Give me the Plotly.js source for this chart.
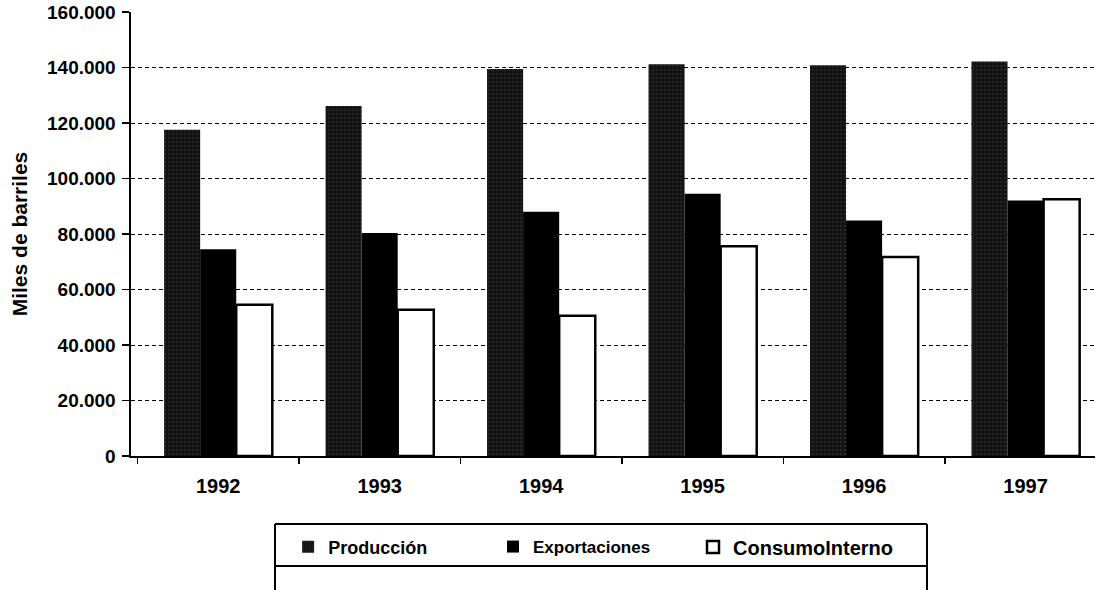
<!DOCTYPE html>
<html>
<head>
<meta charset="utf-8">
<script src="https://cdn.plot.ly/plotly-3.0.1.min.js"></script>
<style>html,body{margin:0;padding:0;background:#fff;}#chart{width:1113px;height:590px;}</style>
</head>
<body>
<div id="chart"></div>
<script>
const years = ['1992', '1993', '1994', '1995', '1996', '1997'];
const produccion = [117600, 126100, 139500, 141200, 140800, 142200];
const exportaciones = [74500, 80400, 88000, 94500, 84900, 92100];
const consumoInterno = [54500, 52700, 50500, 75600, 71700, 92500];
const seriesNames = ['Producción', 'Exportaciones', 'ConsumoInterno'];
const yTickVals = [0, 20000, 40000, 60000, 80000, 100000, 120000, 140000, 160000];
const yAxisTitle = 'Miles de barriles';

const gridVals = yTickVals.slice(1, -1);
const yMax = yTickVals[yTickVals.length - 1];
const FONT = 'Liberation Sans, Arial, sans-serif';

const traces = [
  {
    type: 'bar', name: seriesNames[0], x: years, y: produccion, legend: 'legend',
    marker: {
      color: '#141414',
      line: {width: 0},
      pattern: {shape: '.', fgcolor: '#3e3e3e', bgcolor: '#141414', size: 4, solidity: 0.1, fillmode: 'replace'}
    }
  },
  {
    type: 'bar', name: seriesNames[1], x: years, y: exportaciones, legend: 'legend2',
    marker: {color: '#000000', line: {width: 0}}
  },
  {
    type: 'bar', name: seriesNames[2], x: years, y: consumoInterno, legend: 'legend3',
    marker: {color: '#ffffff', line: {color: '#000000', width: 2.5}}
  },
  {
    type: 'scatter', x: years, y: consumoInterno, yaxis: 'y2', mode: 'none',
    showlegend: false, hoverinfo: 'skip'
  }
];

const legendBase = {
  orientation: 'h', yanchor: 'middle', xanchor: 'left', y: -0.205,
  bgcolor: 'rgba(0,0,0,0)', borderwidth: 0
};

const layout = {
  width: 1113, height: 590,
  margin: {l: 131, r: 18, t: 12, b: 134},
  paper_bgcolor: '#ffffff', plot_bgcolor: 'rgba(0,0,0,0)',
  separators: ',.',
  barmode: 'group', bargap: 0.33, bargroupgap: 0,
  font: {family: FONT, color: '#000', size: 16, weight: 'bold'},
  xaxis: {
    type: 'category', range: [-0.54, 5.43],
    showline: true, linecolor: '#000', linewidth: 2,
    ticks: 'outside', tickson: 'boundaries', ticklen: 6, tickcolor: '#000', tickwidth: 1.5,
    ticklabelstandoff: 11,
    tickfont: {family: FONT, size: 20, weight: 'bold', color: '#000'},
    showgrid: false, zeroline: false, fixedrange: true
  },
  yaxis: {
    range: [0, yMax], tickvals: yTickVals, tickformat: ',d',
    showline: true, linecolor: '#000', linewidth: 2.5,
    ticks: 'outside', ticklen: 7, tickcolor: '#000', tickwidth: 1.5,
    ticklabelstandoff: 2,
    tickfont: {family: FONT, size: 19, weight: 'bold', color: '#000'},
    showgrid: false, zeroline: false,
    title: {text: yAxisTitle, standoff: 14, font: {family: FONT, size: 21, weight: 'bold', color: '#000'}},
    automargin: false, fixedrange: true
  },
  yaxis2: {
    overlaying: 'y', range: [0, yMax], tickvals: gridVals,
    showticklabels: false, ticks: '', showline: false, zeroline: false,
    showgrid: true, gridcolor: '#000', gridwidth: 1, griddash: '4px,3px',
    fixedrange: true
  },
  legend: Object.assign({}, legendBase, {x: 0.163, font: {family: FONT, size: 18, weight: 'bold', color: '#000'}}),
  legend2: Object.assign({}, legendBase, {x: 0.3755, font: {family: FONT, size: 17, weight: 'bold', color: '#000'}}),
  legend3: Object.assign({}, legendBase, {x: 0.583, font: {family: FONT, size: 20, weight: 'bold', color: '#000'}}),
  shapes: [
    {type: 'line', xref: 'paper', yref: 'paper', x0: 0.1494, x1: 0.8257, y0: -0.1532, y1: -0.1532, line: {color: '#000', width: 2}},
    {type: 'line', xref: 'paper', yref: 'paper', x0: 0.1494, x1: 0.8257, y0: -0.2477, y1: -0.2477, line: {color: '#000', width: 2}},
    {type: 'line', xref: 'paper', yref: 'paper', x0: 0.1494, x1: 0.1494, y0: -0.1532, y1: -0.33, line: {color: '#000', width: 2}},
    {type: 'line', xref: 'paper', yref: 'paper', x0: 0.8257, x1: 0.8257, y0: -0.1532, y1: -0.33, line: {color: '#000', width: 2}}
  ],
  showlegend: true,
  hovermode: false
};

Plotly.newPlot('chart', traces, layout, {displayModeBar: false, staticPlot: true});
</script>
</body>
</html>
